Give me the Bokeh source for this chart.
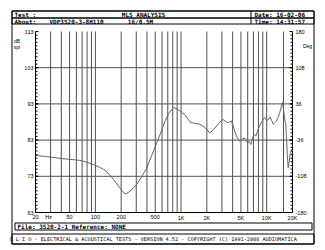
import math
from bokeh.plotting import figure
from bokeh.models import Range1d, LogScale
from bokeh.core.properties import value
from bokeh.embed import file_html
from bokeh.resources import INLINE

# ---------------- data ----------------
freq = [20, 25, 30, 40, 50, 66, 80, 95, 110, 125, 145, 163, 185, 205, 222, 245, 275, 305,
        350, 398, 450, 520, 590, 652, 720, 812, 900, 1000, 1110, 1270, 1450, 1660, 1900,
        2160, 2400, 2600, 2850, 3080, 3300, 3520, 3700, 3870, 4050, 4220, 4500, 4820, 5150,
        5500, 5750, 6000, 6250, 6540, 6830, 7140, 7470, 7800, 8200, 8640, 9050, 9450, 10050,
        10500, 10900, 11400, 11900, 12400, 13000, 13600, 14200, 14800, 15300, 15800, 16300,
        16700, 17000, 17400, 17800, 18300, 18900, 19500, 20000]
spl = [78.8, 78.5, 78.3, 77.9, 77.7, 77.4, 76.9, 76.2, 75.6, 74.9, 73.6, 72.1, 70.4, 69.0,
       68.1, 68.6, 69.7, 70.8, 73.0, 75.3, 78.5, 82.2, 85.5, 88.3, 90.4, 92.0, 91.6, 90.8,
       90.0, 88.0, 87.6, 87.4, 86.5, 85.0, 85.9, 86.9, 88.0, 88.7, 88.2, 87.8, 88.0, 88.3,
       87.0, 85.5, 83.8, 82.7, 83.2, 83.6, 82.8, 82.2, 82.6, 81.8, 83.6, 84.6, 84.1, 85.5,
       86.8, 87.8, 88.6, 89.2, 88.3, 88.8, 89.4, 88.5, 87.4, 87.8, 88.3, 89.3, 90.6, 92.2,
       93.4, 91.0, 88.5, 87.4, 83.6, 79.0, 75.3, 77.0, 79.5, 80.4, 80.0]

spl_min, spl_max = 63, 113
spl_ticks = [63, 73, 83, 93, 103, 113]
spl_minor = list(range(63, 114))
phase_min, phase_max = -180, 180
phase_ticks = [-180, -108, -36, 36, 108, 180]
phase_minor = [-180 + 7.2 * i for i in range(51)]
freq_min, freq_max = 20, 20000
freq_ticks = [20, 50, 100, 200, 500, 1000, 2000, 5000, 10000, 20000]
freq_tick_labels = ["20", "50", "100", "200", "500", "1K", "2K", "5K", "10K", "20K"]
grid_freqs = [30, 40, 50, 60, 70, 80, 90, 100, 200, 300, 400, 500, 600, 700, 800, 900,
              1000, 2000, 3000, 4000, 5000, 6000, 7000, 8000, 9000, 10000]
grid_spl = [73, 83, 93, 103]
cursor_freq = 15700

header_test = "Test :"
header_about = "About:"
header_title = "MLS ANALYSIS"
header_device = "VDP3520-3-8H110"
header_setup = "16/0.5M"
header_date = "Date: 16-02-06"
header_time = "Time: 14:31:57"
footer_file = "File: 3520-2-1 Reference: NONE"
footer_clio = "C L I O  -  ELECTRICAL & ACOUSTICAL TESTS  -  VERSION 4.52  -  COPYRIGHT (C) 1991-2000 AUDIOMATICA"

# ---------------- layout (canvas pixels) ----------------
W, H = 325, 250
FL, FR, FT, FB = 35, 292, 31, 212


def px_to_f(px):
    return freq_min * 10 ** (math.log10(freq_max / freq_min) * (px - FL) / (FR - FL))


def py_to_db(py):
    return spl_max - (spl_max - spl_min) * (py - FT) / (FB - FT)


def py_to_ph(py):
    return phase_max - (phase_max - phase_min) * (py - FT) / (FB - FT)


p = figure(width=W, height=H, x_range=Range1d(0, W), y_range=Range1d(H, 0),
           min_border=0, x_axis_location=None, y_axis_location=None,
           output_backend="svg", toolbar_location=None,
           background_fill_color="white", border_fill_color="white",
           outline_line_color=None)
p.grid.visible = False

p.extra_x_ranges = {"freq": Range1d(px_to_f(0), px_to_f(W))}
p.extra_x_scales = {"freq": LogScale()}
p.extra_y_ranges = {"spl": Range1d(py_to_db(H), py_to_db(0)),
                    "phase": Range1d(py_to_ph(H), py_to_ph(0))}

S = dict(x_range_name="freq", y_range_name="spl")
PH = dict(x_range_name="freq", y_range_name="phase")

GRID = "#505050"
AX_FONT = value("Liberation Sans")
AX_SIZE = value("5.5px")

# grid lines
p.segment(x0=grid_freqs, x1=grid_freqs, y0=[spl_min] * len(grid_freqs),
          y1=[spl_max] * len(grid_freqs), line_color=GRID, line_width=1, **S)
p.segment(x0=[freq_min] * len(grid_spl), x1=[freq_max] * len(grid_spl),
          y0=grid_spl, y1=grid_spl, line_color=GRID, line_width=1, **S)

# cursor line
p.segment(x0=[cursor_freq], x1=[cursor_freq], y0=[spl_min], y1=[spl_max],
          line_color=GRID, line_width=1, **S)

# axis lines
p.segment(x0=[freq_min, freq_max, freq_min], x1=[freq_min, freq_max, freq_max],
          y0=[spl_min, spl_min, spl_min], y1=[spl_max, spl_max, spl_min],
          line_color="black", line_width=1, **S)

# ticks (inward)
p.ray(x=[freq_min] * len(spl_minor), y=spl_minor, length=2, length_units="screen",
      angle=0, line_color="black", line_width=1, **S)
p.ray(x=[freq_min] * len(spl_ticks), y=spl_ticks, length=3, length_units="screen",
      angle=0, line_color="black", line_width=1, **S)
p.ray(x=[freq_max] * len(phase_minor), y=phase_minor, length=2, length_units="screen",
      angle=math.pi, line_color="black", line_width=1, **PH)
p.ray(x=[freq_max] * len(phase_ticks), y=phase_ticks, length=3, length_units="screen",
      angle=math.pi, line_color="black", line_width=1, **PH)

# tick labels
p.text(x=[freq_min] * len(spl_ticks), y=spl_ticks, text=[str(v) for v in spl_ticks],
       x_offset=-2, text_align="right", text_baseline="middle",
       text_font=AX_FONT, text_font_size=AX_SIZE, text_color="black", **S)
p.text(x=[freq_max] * len(phase_ticks), y=phase_ticks, text=[str(v) for v in phase_ticks],
       x_offset=3, text_align="left", text_baseline="middle",
       text_font=AX_FONT, text_font_size=AX_SIZE, text_color="black", **PH)
p.text(x=freq_ticks, y=[spl_min] * len(freq_ticks), text=freq_tick_labels,
       y_offset=2, text_align="center", text_baseline="top",
       text_font=AX_FONT, text_font_size=AX_SIZE, text_color="black", **S)

# response curve
p.line(freq, spl, line_color="#666666", line_width=1, **S)


# ---------------- frame texts / boxes (canvas pixels) ----------------
def lab(text, px, py, size="6px", font="DejaVu Sans Mono", style="bold", align="left"):
    p.text(x=[px], y=[py], text=[text], text_font=value(font),
           text_font_size=value(size), text_font_style=style, text_align=align,
           text_baseline="middle", text_color="black")


def box(l, t, r, b):
    p.quad(left=[l], right=[r], top=[t], bottom=[b], fill_color=None,
           line_color="black", line_width=1)


box(11.5, 10.5, 313.5, 243.5)
box(11.5, 10.5, 313.5, 17.5)
box(11.5, 17.5, 313.5, 23.5)
p.segment(x0=[250.5], x1=[250.5], y0=[10.5], y1=[23.5], line_color="black", line_width=1)
box(14.5, 222.5, 311.5, 229.5)
box(11.5, 233.5, 313.5, 243.5)

lab(header_test, 14, 14)
lab(header_about, 14, 20.5)
lab(header_title, 143, 14, align="center")
lab(header_device, 49, 20.5)
lab(header_setup, 140, 20.5, align="center")
lab(header_date, 254, 14)
lab(header_time, 254, 20.5)

lab("dB", 16.5, 40, size="5px", font="Liberation Sans", style="normal", align="center")
lab("spl", 16.5, 46, size="5px", font="Liberation Sans", style="normal", align="center")
lab("Deg", 307, 45, size="5px", font="Liberation Sans", style="normal", align="center")
lab("Hz", 48, 216.5, size="5.5px", font="Liberation Sans", style="normal", align="center")

lab(footer_file, 17, 226, size="6px")
lab(footer_clio, 162, 238.5, size="5.2px", style="normal", align="center")

open("out.html", "w").write(file_html(p, INLINE))
